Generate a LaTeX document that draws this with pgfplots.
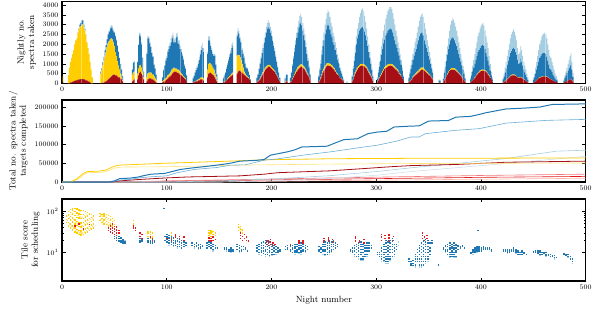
\documentclass[border=0pt]{standalone}
\usepackage{pgfplots}
\pgfplotsset{compat=1.18}
\usepackage{pgfplotstable}
\definecolor{dblue}{RGB}{31,120,180}
\definecolor{mblue}{RGB}{107,174,214}
\definecolor{lblue}{RGB}{166,206,227}
\definecolor{vlblue}{RGB}{205,225,240}
\definecolor{gold}{RGB}{255,205,0}
\definecolor{lyellow}{RGB}{255,228,120}
\definecolor{dred}{RGB}{165,15,21}
\definecolor{bred}{RGB}{227,26,28}
\definecolor{pink}{RGB}{240,120,120}
\definecolor{lpink}{RGB}{250,180,170}
\pgfplotstableread{
n r y b l
1 50 300 0 0
6 0 400 0 0
7 0 800 0 0
8 50 1050 0 0
9 50 1250 0 0
10 80 1420 0 0
11 100 1600 0 0
12 120 1880 0 0
13 150 2050 0 0
14 150 2150 0 0
15 180 2400 20 0
16 200 2550 50 0
17 200 2700 100 0
18 220 2700 180 0
19 220 2800 200 30
20 220 2800 200 30
21 200 2650 150 0
22 200 2500 100 0
23 150 2300 50 0
24 150 1950 0 0
25 100 1700 0 0
26 100 1400 0 0
27 50 1050 0 0
28 0 700 0 0
29 0 300 0 0
37 0 500 100 0
38 20 650 100 0
39 30 900 150 0
40 50 1100 200 0
41 80 1300 300 0
42 100 1500 350 0
43 150 1700 400 0
44 200 1850 450 0
45 250 1900 500 50
46 300 1950 550 100
47 350 1950 550 130
48 400 1850 600 100
49 450 1650 600 80
50 450 1450 700 50
51 400 1200 800 50
52 400 1000 800 50
53 350 800 750 50
54 300 600 700 50
55 300 400 600 0
56 250 250 500 0
57 200 100 400 0
58 100 50 200 0
67 100 300 300 0
68 150 400 500 50
69 200 400 500 50
72 200 300 600 0
73 400 350 1200 50
74 550 350 1550 150
75 600 350 1450 150
76 500 300 1200 100
77 400 200 700 50
78 200 100 300 0
81 100 200 1200 100
82 200 300 1800 100
83 250 300 1750 100
84 250 300 1500 100
85 250 300 1300 50
86 200 250 1100 50
87 200 250 900 50
88 150 200 600 50
89 100 150 500 50
90 50 100 300 0
96 50 50 200 0
97 80 80 500 50
98 100 100 700 50
99 150 100 900 100
100 200 100 1000 100
101 250 150 1200 100
102 300 150 1300 150
103 350 150 1400 150
104 400 200 1500 200
105 500 200 1600 150
106 550 200 1650 200
107 600 200 1300 150
108 600 150 1350 200
109 600 150 1600 200
110 550 150 1700 200
111 550 150 1350 150
112 500 150 1350 200
113 450 100 1200 150
114 400 100 1100 150
115 350 100 950 100
116 300 50 850 100
117 250 50 600 100
118 200 50 500 50
119 100 0 300 50
125 50 0 200 50
126 50 20 300 50
127 80 20 450 50
128 100 30 550 100
129 100 50 650 100
130 150 50 800 150
131 150 50 1000 150
132 200 80 1200 200
133 200 100 1400 200
134 200 100 1500 250
135 150 100 1350 200
139 300 400 800 100
140 500 500 1200 200
141 550 500 1150 200
142 550 450 900 150
143 500 400 800 100
144 450 350 700 100
145 400 300 700 100
146 300 200 900 100
147 200 150 600 50
148 100 50 300 50
154 50 0 200 50
155 80 20 300 50
156 100 30 400 50
157 150 30 550 100
158 200 50 700 100
159 250 50 850 100
160 300 50 1000 150
161 350 80 1100 150
162 400 100 1300 200
163 450 100 1350 200
167 500 900 1000 100
168 600 850 1200 170
169 650 800 1100 150
170 650 700 950 100
171 600 600 900 100
172 550 450 700 100
173 500 300 700 100
174 450 150 700 100
175 400 100 500 100
176 350 50 400 50
177 300 50 400 50
178 250 50 300 50
179 200 30 200 0
180 100 0 100 0
186 50 10 200 40
187 100 20 330 50
188 150 30 550 70
189 200 40 760 100
190 300 50 930 120
191 400 60 1090 150
192 500 80 1220 200
193 600 100 1380 220
194 700 100 1550 250
195 750 100 1750 300
196 800 100 1900 300
197 850 100 1930 350
198 850 100 1850 300
199 800 100 1700 300
200 750 80 1600 270
201 700 80 1400 220
202 650 60 1200 190
203 600 50 1000 150
204 500 40 830 130
205 400 30 670 100
206 300 20 500 80
207 200 10 340 50
208 100 0 180 20
213 50 0 200 50
214 100 20 300 80
215 100 20 300 50
218 50 10 200 40
219 100 20 420 60
220 200 40 660 100
221 300 60 900 140
222 400 80 1140 180
223 500 100 1380 220
224 600 100 1630 270
225 700 120 1780 300
226 750 120 1980 350
227 800 120 2130 400
228 850 120 2110 480
229 850 120 2000 430
230 800 100 1800 400
231 750 100 1600 350
232 700 80 1420 300
233 600 60 1190 250
234 500 50 950 200
235 400 40 710 150
236 300 30 470 100
237 150 10 290 50
245 50 10 280 60
246 150 30 500 120
247 250 50 700 200
248 400 70 980 250
249 550 90 1260 300
250 650 100 1450 400
251 750 100 1650 500
252 850 100 1800 550
253 900 120 1930 650
254 900 120 2025 700
255 900 120 1930 700
256 880 120 1750 650
257 850 100 1550 600
258 800 100 1450 550
259 750 80 1270 500
260 700 80 1170 450
261 600 60 1040 400
262 500 50 900 350
263 450 40 710 300
264 400 30 620 250
265 300 20 480 200
266 250 10 390 150
267 200 10 290 100
268 150 0 180 70
269 80 0 90 30
272 30 0 60 20
277 80 10 250 60
278 200 30 520 150
279 350 50 750 250
280 500 70 1000 330
281 600 80 1320 400
282 700 100 1500 500
283 780 100 1620 600
284 850 100 1750 700
285 880 100 1820 800
286 900 100 1850 900
287 900 100 1880 950
288 880 100 1820 900
289 850 100 1700 800
290 800 80 1570 700
291 750 80 1370 600
292 650 60 1190 500
293 550 50 1000 400
294 450 40 810 300
295 350 30 620 200
296 250 20 400 130
297 120 10 210 60
301 50 10 180 60
302 150 20 380 150
303 250 40 560 250
304 350 50 750 350
305 450 60 950 440
306 550 80 1120 550
307 650 90 1300 660
308 720 100 1420 760
309 780 100 1570 850
310 820 100 1650 930
311 860 100 1740 1000
312 880 100 1770 1050
313 900 100 1800 1100
314 900 100 1800 1115
315 880 100 1770 1050
316 850 100 1650 1000
317 800 90 1510 900
318 750 80 1370 800
319 700 70 1230 700
320 650 60 1090 600
321 600 50 950 500
322 500 40 860 400
323 450 30 700 320
324 350 20 580 250
325 250 10 390 150
326 120 0 210 70
331 50 0 200 50
332 100 10 380 110
333 150 20 560 170
334 200 30 720 250
335 300 40 860 300
336 350 50 1000 400
337 400 60 1140 500
338 450 70 1230 550
339 500 80 1420 600
340 550 90 1560 700
341 600 100 1700 800
342 650 100 1800 850
343 700 100 1800 900
344 700 100 1780 1000
345 700 100 1650 950
346 650 90 1460 900
347 600 80 1320 800
348 550 70 1180 700
349 500 60 1040 600
350 450 50 900 500
351 400 40 760 400
352 350 30 620 300
353 250 20 500 230
354 200 10 340 150
360 30 0 120 50
361 30 0 100 40
364 50 0 170 80
365 150 10 380 160
366 250 20 580 250
367 350 30 770 350
368 450 40 960 450
369 550 50 1150 550
370 620 60 1320 700
371 670 70 1460 800
372 700 80 1520 900
373 700 80 1590 950
374 700 80 1520 950
375 680 70 1450 900
376 650 60 1340 850
377 600 50 1250 800
378 550 40 1110 700
379 500 30 970 600
380 450 20 830 500
381 380 10 710 400
382 300 10 590 300
383 230 0 470 200
384 150 0 320 130
385 80 0 160 60
390 50 0 150 100
391 100 10 300 190
392 150 10 450 290
393 200 20 580 400
394 280 20 700 500
395 350 30 820 600
396 420 30 950 700
397 500 40 1060 800
398 550 40 1110 900
399 600 50 1150 1000
400 620 50 1230 1050
401 650 50 1250 1100
402 650 50 1300 1100
403 640 50 1210 1050
404 620 40 1090 950
405 580 40 930 850
406 520 30 800 750
407 450 30 670 650
408 380 20 500 500
409 280 10 360 350
410 180 0 220 200
411 80 0 120 100
421 40 0 160 100
422 70 0 270 160
423 100 10 440 250
424 150 10 590 350
425 200 20 730 450
426 250 20 880 550
427 300 30 1020 650
428 350 30 1170 750
429 380 40 1230 850
430 400 40 1310 900
431 400 40 1370 950
432 400 40 1310 900
433 380 30 1190 850
434 350 30 1070 750
435 300 20 880 600
436 260 20 720 500
437 280 20 750 550
438 300 20 930 650
439 280 20 800 600
440 240 10 650 500
441 200 10 490 400
442 160 0 400 340
443 120 0 310 270
444 80 0 220 200
445 50 0 130 120
450 30 0 150 120
451 60 0 240 200
452 100 0 400 300
453 150 10 540 400
454 200 10 690 500
455 250 10 840 600
456 280 20 1000 700
457 300 20 1080 800
458 320 20 1160 900
459 340 20 1190 950
460 350 20 1180 1000
461 350 20 1180 1050
462 340 20 1140 1000
463 320 20 1010 950
464 300 10 840 850
465 260 10 680 750
466 220 10 520 650
467 200 10 490 600
468 170 0 400 530
469 140 0 310 450
470 110 0 240 350
471 80 0 170 250
472 60 0 110 180
473 30 0 70 100
479 30 0 100 70
480 60 0 200 140
481 90 0 300 210
482 120 0 400 280
483 150 0 500 350
484 180 0 600 420
485 200 0 700 500
486 200 0 760 600
487 150 0 550 400
488 80 0 250 200
}\bars
\pgfplotsset{
  panel/.style={
    scale only axis, width=523.7bp, height=82bp,
    xmin=0, xmax=500, xtick={0,100,...,500},
    axis line style={line width=1.1pt},
    major tick length=3.5bp, minor tick length=2bp,
    tick style={black, line width=0.5pt},
    ticklabel style={font=\scriptsize},
    yticklabel style={/pgf/number format/fixed, /pgf/number format/precision=0, /pgf/number format/1000 sep={}},
    label style={font=\fontsize{9}{10.5}\selectfont, align=center},
    clip=true,
  },
  sc/.style={only marks, mark=square*, mark size=0.22pt},
}
\begin{document}
\begin{tikzpicture}
\useasboundingbox (0,0) rectangle (598bp,-309bp);
% ---------- top panel ----------
\begin{axis}[panel, at={(62bp,-1.3bp)}, anchor=north west,
  ymin=0, ymax=4200, ytick={0,500,...,4000},
  ylabel={Nightly no.\\spectra taken},
  ybar stacked, bar width=0.75]
\addplot[fill=dred, draw=none] table[x=n, y=r] {\bars};
\addplot[fill=gold, draw=none] table[x=n, y=y] {\bars};
\addplot[fill=dblue, draw=none] table[x=n, y=b] {\bars};
\addplot[fill=lblue, draw=none] table[x=n, y=l] {\bars};
\end{axis}
% ---------- middle panel ----------
\begin{axis}[panel, at={(62bp,-100bp)}, anchor=north west,
  ymin=0, ymax=220000, ytick={0,50000,100000,150000,200000},
  scaled y ticks=false,
  ylabel={Total no. spectra taken/\\targets completed}]
\addplot[lpink, line width=0.6pt] coordinates {(0,0)(150,0)(300,5000)(500,10000)};
\addplot[bred, line width=0.6pt] coordinates {(0,0)(50,0)(100,2000)(200,5500)(300,9000)(400,12500)(500,15000)};
\addplot[pink, line width=0.6pt] coordinates {(0,0)(60,0)(100,3000)(200,8000)(300,13000)(400,17500)(500,21000)};
\addplot[vlblue, line width=0.6pt] coordinates {(0,0)(150,0)(200,3000)(256,9600)(300,18000)(333,28000)(424,49600)(500,69000)};
\addplot[lblue, line width=0.6pt] coordinates {(0,0)(100,0)(150,3000)(200,8000)(256,17000)(300,28000)(333,38000)(392,54000)(424,63000)(472,82700)(500,85300)};
\addplot[dred, line width=0.8pt] coordinates {(0,0)(48,0)(55,3000)(75,7000)(100,11000)(120,13500)(170,16500)(193,21000)(206,25000)(256,30000)(288,36000)(314,41000)(333,44000)(376,47000)(424,53000)(500,56000)};
\addplot[lyellow, line width=0.6pt] coordinates {(0,0)(9,0)(15,7000)(21,20000)(25,25000)(38,26000)(44,30000)(50,37000)(56,40000)(100,41000)(170,45300)(250,48000)(330,49500)(500,51000)};
\addplot[gold, line width=0.8pt] coordinates {(0,0)(8,0)(14,8000)(20,22000)(24,28000)(35,29000)(42,32000)(48,40000)(53,45000)(70,47000)(100,50500)(150,55000)(200,60000)(260,62500)(330,63500)(500,64500)};
\addplot[mblue, line width=0.6pt] coordinates {(0,0)(48,0)(55,5000)(65,7000)(75,11500)(85,14000)(100,16500)(110,25000)(126,33600)(148,39000)(161,45300)(175,46000)(193,58600)(206,62100)(230,72000)(256,80800)(282,91500)(301,98700)(320,110000)(333,120800)(341,120800)(347,129600)(376,138700)(398,143000)(424,158000)(462,165300)(500,168000)};
\addplot[dblue, line width=1pt] coordinates {(0,0)(45,0)(50,3000)(55,9000)(65,10500)(72,13000)(78,17000)(85,21000)(98,23000)(105,28000)(113,33600)(125,38000)(135,41000)(148,45300)(160,50000)(170,56000)(185,58000)(193,60300)(199,72000)(215,80800)(222,86000)(229,94000)(253,96000)(262,106000)(269,113600)(282,116000)(292,129600)(301,134000)(310,136000)(317,147500)(333,150000)(341,150500)(350,163500)(369,165000)(376,174000)(390,176000)(398,181000)(405,186000)(424,196000)(440,198000)(456,201000)(468,208000)(500,209600)};
\end{axis}
% ---------- bottom panel ----------
\begin{axis}[panel, at={(62bp,-199bp)}, anchor=north west,
  ymode=log, ymin=2, ymax=200, ytick={10,100},
  yticklabel style={/pgf/number format/.cd, sci},
  ylabel={Tile score\\for scheduling},
  xlabel={Night number}]
\addplot[sc, lyellow] coordinates {(5,60)(7,50)(7,70)(9,45)(9,85)(11,40)(11,65)(11,100)(13,35)(13,55)(13,90)(15,33)(15,50)(15,80)(17,30)(17,48)(17,75)(17,100)(19,30)(19,46)(19,72)(21,32)(21,50)(21,80)(23,35)(23,55)(23,85)(25,38)(25,60)(27,40)(27,65)(29,45)(29,70)(37,65)(37,82)(39,58)(39,75)(41,55)(41,70)(43,50)(43,65)(45,48)(45,60)(47,45)(141,28)(143,32)(169,40)(171,36)};
\addplot[sc, gold] coordinates {(4,55)(4,65)(4,78)(6,45)(6,55)(6,68)(6,82)(6,100)(8,40)(8,50)(8,62)(8,76)(8,94)(8,112)(10,36)(10,45)(10,56)(10,70)(10,88)(10,110)(10,120)(12,32)(12,40)(12,50)(12,63)(12,80)(12,100)(12,118)(14,30)(14,37)(14,46)(14,58)(14,73)(14,92)(14,115)(16,28)(16,35)(16,44)(16,55)(16,70)(16,88)(16,110)(18,27)(18,34)(18,42)(18,53)(18,67)(18,84)(18,108)(20,28)(20,35)(20,44)(20,55)(20,69)(20,86)(20,105)(22,30)(22,38)(22,47)(22,59)(22,74)(22,100)(24,32)(24,40)(24,50)(24,62)(24,78)(24,96)(26,35)(26,44)(26,55)(26,68)(26,88)(28,38)(28,47)(28,58)(28,72)(28,85)(30,40)(30,50)(30,62)(30,78)(36,60)(36,75)(36,90)(38,55)(38,68)(38,85)(40,50)(40,62)(40,78)(40,88)(42,48)(42,58)(42,72)(42,84)(44,45)(44,55)(44,68)(44,80)(46,50)(46,62)(46,75)(48,45)(48,58)(48,68)(50,48)(50,60)(68,50)(68,60)(82,25)(82,30)(82,33)(84,22)(84,28)(84,32)(86,24)(86,30)(104,26)(104,30)(108,24)(108,28)(140,26)(140,30)(140,35)(142,25)(142,30)(142,34)(144,24)(144,28)(144,33)(146,26)(146,30)(168,35)(168,42)(168,48)(170,32)(170,38)(170,44)(172,30)(172,36)};
\addplot[sc, bred] coordinates {(12,45)(16,50)(20,38)(26,48)(44,35)(44,40)(46,32)(46,38)(46,45)(48,30)(48,35)(48,40)(48,50)(50,28)(50,33)(50,38)(50,44)(52,26)(52,30)(52,36)(52,42)(54,30)(54,35)(68,40)(68,45)(70,35)(70,40)(74,25)(74,30)(76,22)(76,28)(84,20)(84,24)(86,19)(86,22)(100,22)(100,25)(104,20)(104,23)(108,20)(108,24)(108,27)(112,22)(112,25)(116,20)(116,24)(140,20)(140,23)(142,19)(142,22)(144,20)(144,24)(146,21)(170,22)(170,26)(170,30)(172,20)(172,25)(174,22)(174,28)(176,20)(176,24)(178,19)(195,16)(195,18)(195,20)(197,15)(197,17)(197,19)(199,16)(199,18)(199,21)(201,15)(201,17)(203,16)(218,14)(218,16)(226,15)(226,17)(226,19)(230,17)(230,19)(250,18)(250,20)(250,22)(254,19)(254,21)(254,23)(258,18)(258,21)(280,19)(280,22)(280,24)(284,18)(284,20)(288,17)(288,21)(305,20)(305,24)(305,28)(308,22)(308,26)(312,19)(312,23)(312,27)(316,20)(316,25)(344,22)(344,26)(344,30)(346,20)(346,24)(348,22)(348,26)};
\addplot[sc, lblue] coordinates {(58,18)(60,19)(102,15)(106,14)(110,13)(126,13)(130,12)(144,11)(157,11)(161,10)(169,10)(188,9)(190,8.5)(194,8)(198,8)(200,8.5)(204,9)(222,9)(226,9.5)(228,9)(232,10)(249,9)(251,8.5)(255,9)(257,10)(279,8)(283,7)(285,6.5)(287,6.5)(291,8)(305,6)(307,6)(309,5.5)(311,5.5)(313,6.5)(317,8)(321,15)(321,18)(337,4.5)(341,4.5)(343,4.5)(345,4.8)(347,5.5)(349,6)(366,10)(370,7.5)(374,7.5)(376,7.5)(392,9)(396,10)(425,9.5)(433,9.5)(456,8.5)(462,8)(470,7)(483,7.5)(487,5.5)};
\addplot[sc, dblue] coordinates {(50,22)(50,25)(52,20)(52,23)(54,19)(54,22)(54,25)(56,18)(56,20)(56,23)(58,17)(58,19)(58,21)(60,17)(60,18)(74,18)(74,20)(74,22)(76,19)(76,21)(82,18)(82,20)(82,22)(84,17)(84,19)(86,17)(86,18)(86,21)(88,18)(88,20)(97,120)(98,20)(98,25)(100,18)(100,21)(100,24)(100,28)(102,17)(102,20)(102,23)(102,26)(104,16)(104,18)(104,21)(104,24)(106,15)(106,17)(106,20)(106,23)(108,15)(108,17)(108,19)(110,14)(110,16)(110,19)(110,22)(112,14)(112,16)(112,18)(112,21)(114,13)(114,15)(114,17)(114,20)(116,14)(116,16)(116,18)(118,15)(118,17)(124,15)(124,17)(126,14)(126,16)(128,14)(128,15)(128,17)(130,13)(130,15)(130,16)(132,13)(132,14)(132,16)(134,14)(134,15)(138,13)(138,15)(138,17)(140,14)(140,16)(140,18)(142,13)(142,15)(142,17)(144,12)(144,14)(144,16)(146,13)(146,15)(148,13)(155,12)(155,13)(157,12)(157,13)(159,11)(159,12)(161,11)(161,12)(161,13)(163,11)(163,12)(167,12)(167,14)(167,16)(169,11)(169,13)(169,15)(171,11)(171,12)(171,14)(173,12)(173,14)(175,12)(175,13)(177,11)(186,11)(186,13)(186,15)(188,10)(188,12)(188,14)(188,16)(190,10)(190,11)(190,13)(190,15)(190,17)(192,9.5)(192,11)(192,13)(192,15)(192,18)(194,9)(194,11)(194,12)(194,14)(194,17)(194,20)(196,9)(196,10)(196,12)(196,14)(196,16)(196,19)(198,8.5)(198,10)(198,11)(198,13)(198,15)(198,18)(200,9)(200,10)(200,12)(200,14)(200,16)(202,9)(202,11)(202,13)(202,15)(204,10)(204,12)(204,14)(206,10)(206,11)(206,13)(208,11)(208,12)(213,12)(213,14)(215,12)(215,13)(215,15)(218,11)(218,12)(218,14)(218,15)(220,10)(220,12)(220,13)(220,15)(222,10)(222,11)(222,13)(222,14)(222,16)(224,10)(224,11)(224,12)(224,14)(224,16)(226,10)(226,12)(226,13)(226,15)(228,10)(228,11)(228,13)(228,15)(228,17)(230,11)(230,12)(230,14)(230,16)(232,11)(232,13)(232,15)(234,12)(234,14)(245,11)(245,12)(245,14)(247,10)(247,12)(247,13)(249,11)(249,12)(249,14)(249,16)(251,9)(251,11)(251,12)(251,14)(251,16)(251,18)(253,9)(253,10)(253,12)(253,13)(253,15)(253,17)(255,10)(255,11)(255,13)(255,15)(255,17)(255,19)(257,11)(257,12)(257,14)(257,16)(257,18)(259,12)(259,14)(259,16)(259,18)(259,20)(261,13)(261,15)(261,17)(263,14)(263,16)(275,11)(275,12)(277,10)(277,11)(277,13)(279,9)(279,11)(279,13)(279,15)(281,8)(281,10)(281,12)(281,14)(281,16)(283,8)(283,9)(283,11)(283,13)(283,15)(283,17)(285,7)(285,9)(285,10)(285,12)(285,14)(285,16)(285,18)(287,7)(287,8)(287,10)(287,12)(287,14)(287,16)(289,8)(289,9)(289,11)(289,13)(289,15)(291,9)(291,11)(291,13)(291,15)(291,17)(293,11)(293,13)(293,15)(293,17)(295,13)(295,15)(301,9)(301,10)(303,8)(303,9)(303,10)(305,7)(305,8)(305,9)(305,11)(305,13)(307,6.5)(307,7.5)(307,9)(307,10)(307,12)(307,14)(307,16)(309,6)(309,7)(309,8)(309,10)(309,12)(309,14)(309,17)(309,20)(311,6)(311,7)(311,8)(311,9)(311,11)(311,13)(311,15)(311,18)(313,7)(313,8)(313,10)(313,12)(313,14)(313,17)(313,20)(315,8)(315,10)(315,12)(315,14)(315,16)(315,19)(315,22)(317,9)(317,11)(317,13)(317,16)(319,12)(319,14)(319,16)(331,6)(331,7)(333,5)(333,5.5)(333,6)(335,4.8)(335,5.5)(335,6.5)(337,5)(337,6)(337,7)(337,8)(337,9)(339,6)(339,7)(339,8)(339,10)(339,12)(341,5)(341,6)(341,7)(341,9)(341,11)(341,13)(341,15)(343,5)(343,6)(343,7)(343,8)(343,10)(343,12)(343,14)(343,17)(345,5)(345,6)(345,8)(345,9)(345,11)(345,13)(345,16)(345,19)(347,6)(347,7)(347,8)(347,10)(347,12)(347,14)(347,16)(347,18)(347,21)(349,7)(349,8)(349,10)(349,12)(349,14)(349,17)(349,20)(351,9)(351,11)(351,13)(351,17)(353,17)(353,20)(359,5)(364,12)(364,13)(366,11)(366,12)(366,14)(366,15)(368,9)(368,11)(368,12)(368,14)(368,16)(370,8)(370,9)(370,10)(370,12)(370,13)(370,15)(370,17)(372,8)(372,9)(372,10)(372,11)(372,13)(372,14)(372,16)(374,8)(374,9)(374,10)(374,12)(374,13)(374,15)(374,17)(376,8)(376,10)(376,11)(376,13)(376,15)(376,16)(378,12)(378,14)(378,15)(380,13)(380,14)(382,14)(382,15)(384,13)(390,9.5)(390,10)(392,10)(392,11)(392,12)(394,10)(394,11)(394,12)(394,13)(396,11)(396,12)(396,13)(396,14)(397,35)(398,11)(398,12)(398,13)(398,14)(400,11)(400,12)(400,13)(402,12)(402,13)(402,14)(404,12)(404,13)(406,12)(406,13)(408,12)(408,13)(410,11)(410,12)(421,11)(421,12)(423,11)(423,12)(425,10)(425,11)(425,12)(427,10)(427,11)(427,12)(429,11)(429,12)(431,11)(431,12)(431,13)(433,10)(433,11)(433,12)(435,9)(435,10)(435,11)(437,9)(437,10)(439,9)(439,10)(439,11)(441,9.5)(441,10)(443,9)(450,10)(450,10.5)(452,10)(452,11)(454,9.5)(454,10)(454,11)(456,9)(456,10)(456,11)(458,9)(458,10)(460,9.5)(460,10)(462,8.5)(462,9)(462,10)(464,8.5)(464,9)(466,8)(466,9)(468,8)(468,8.5)(470,7.5)(470,8.5)(472,7.5)(479,9)(479,9.5)(481,8.5)(481,9)(483,8)(483,9)(485,7)(485,8)(487,6)(487,7)};
\end{axis}
\end{tikzpicture}
\end{document}
